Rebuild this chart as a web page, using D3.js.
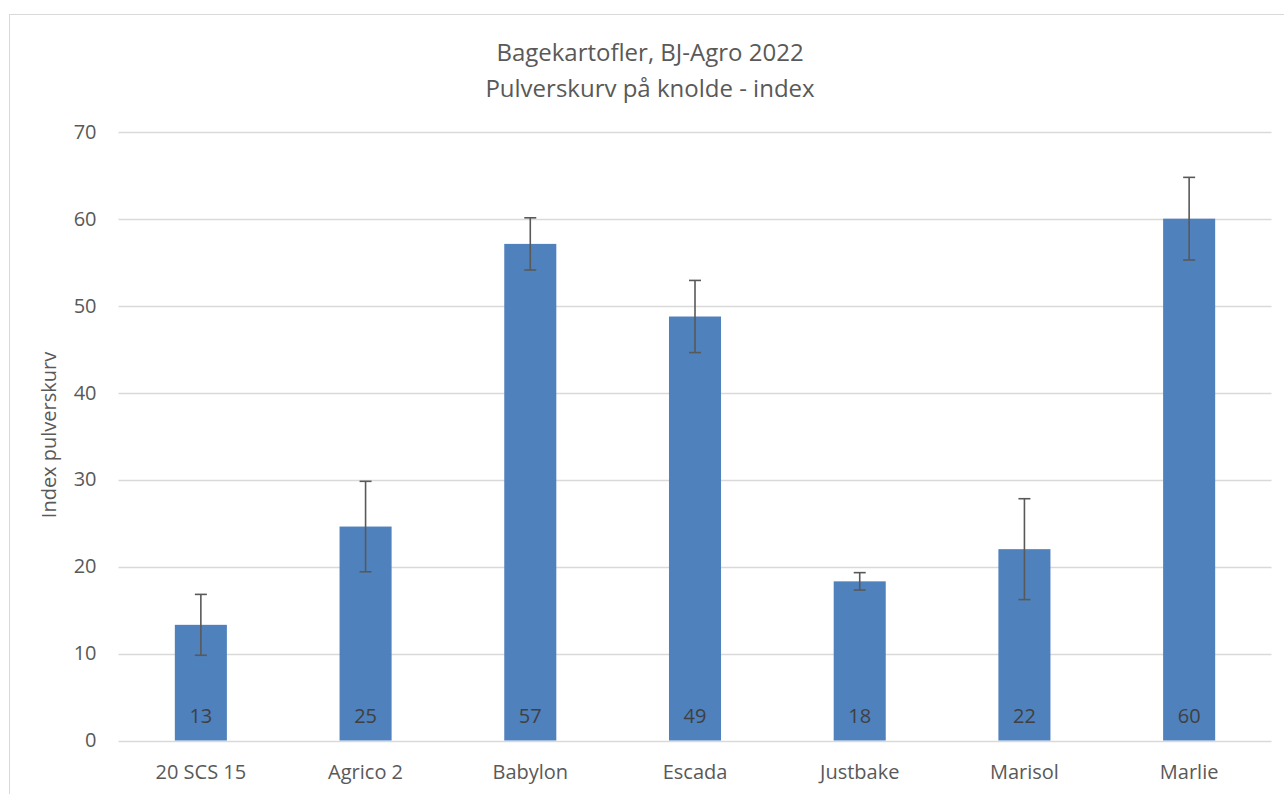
<!DOCTYPE html>
<html>
<head>
<meta charset="utf-8">
<script src="https://cdn.jsdelivr.net/npm/d3@7"></script>
<style>
  html, body { margin: 0; padding: 0; background: #fff; }
  svg { display: block; font-family: "Open Sans", "Liberation Sans", sans-serif; }
</style>
</head>
<body>
<svg id="chart" width="1284" height="794"></svg>
<script>
const categories = ["20 SCS 15", "Agrico 2", "Babylon", "Escada", "Justbake", "Marisol", "Marlie"];
const values = [13.3, 24.6, 57.1, 48.75, 18.3, 22.0, 60.0];
const errors = [3.5, 5.2, 3.0, 4.15, 1.0, 5.8, 4.75];
const labels = ["13", "25", "57", "49", "18", "22", "60"];
const yTicks = [0, 10, 20, 30, 40, 50, 60, 70];
const titleLines = ["Bagekartofler, BJ-Agro 2022", "Pulverskurv på knolde - index"];
const yTitle = "Index pulverskurv";

const svg = d3.select("#chart");
const textColor = "#595959";

// chart frame
svg.append("rect").attr("x", 9.5).attr("y", 14.5).attr("width", 1290).attr("height", 800)
  .attr("fill", "#fff").attr("stroke", "#d9d9d9").attr("stroke-width", 1);

const plot = { left: 118.5, right: 1271.5, top: 131.7, bottom: 740.5 };

const x = d3.scaleBand().domain(categories).range([plot.left, plot.right]).paddingInner(0.684).paddingOuter(0.342);
const y = d3.scaleLinear().domain([0, 70]).range([plot.bottom, plot.top]);

// gridlines
svg.append("g").selectAll("line").data(yTicks).join("line")
  .attr("x1", plot.left).attr("x2", plot.right)
  .attr("y1", d => Math.round(y(d)) + 0.5).attr("y2", d => Math.round(y(d)) + 0.5)
  .attr("stroke", "#d9d9d9").attr("stroke-width", 1.3);

// y axis labels
const yAxis = d3.axisLeft(y).tickValues(yTicks).tickSize(0).tickPadding(0);
const gy = svg.append("g").attr("transform", `translate(${plot.left - 22},0)`).call(yAxis);
gy.select(".domain").remove();
gy.selectAll("text").attr("fill", textColor).style("font-size", "20px").style("font-family", "'Open Sans', sans-serif");

// x axis labels
const xAxis = d3.axisBottom(x).tickSize(0).tickPadding(0);
const gx = svg.append("g").attr("transform", `translate(0,${plot.bottom + 24})`).call(xAxis);
gx.select(".domain").remove();
gx.selectAll("text").attr("fill", textColor).style("font-size", "20px").style("font-family", "'Open Sans', sans-serif");

// bars
svg.append("g").selectAll("rect").data(categories).join("rect")
  .attr("x", d => x(d)).attr("width", x.bandwidth())
  .attr("y", (d, i) => y(values[i])).attr("height", (d, i) => y(0) - y(values[i]))
  .attr("fill", "#4f81bd");

// error bars
const eg = svg.append("g").attr("stroke", "#595959").attr("stroke-width", 1.6);
categories.forEach((c, i) => {
  const cx = x(c) + x.bandwidth() / 2;
  const hi = y(values[i] + errors[i]), lo = y(values[i] - errors[i]);
  eg.append("line").attr("x1", cx).attr("x2", cx).attr("y1", hi).attr("y2", lo);
  eg.append("line").attr("x1", cx - 6).attr("x2", cx + 6).attr("y1", hi).attr("y2", hi);
  eg.append("line").attr("x1", cx - 6).attr("x2", cx + 6).attr("y1", lo).attr("y2", lo);
});

// data labels
svg.append("g").selectAll("text").data(categories).join("text")
  .attr("x", d => x(d) + x.bandwidth() / 2).attr("y", y(0) - 18)
  .attr("text-anchor", "middle").attr("fill", "#404040")
  .style("font-size", "20px")
  .text((d, i) => labels[i]);

// title
svg.append("g").selectAll("text").data(titleLines).join("text")
  .attr("x", 650).attr("y", (d, i) => 61 + i * 36)
  .attr("text-anchor", "middle").attr("fill", textColor)
  .style("font-size", "24px")
  .text(d => d);

// y title
svg.append("text")
  .attr("transform", `translate(56,435) rotate(-90)`)
  .attr("text-anchor", "middle").attr("fill", textColor)
  .style("font-size", "20px")
  .text(yTitle);
</script>
</body>
</html>
